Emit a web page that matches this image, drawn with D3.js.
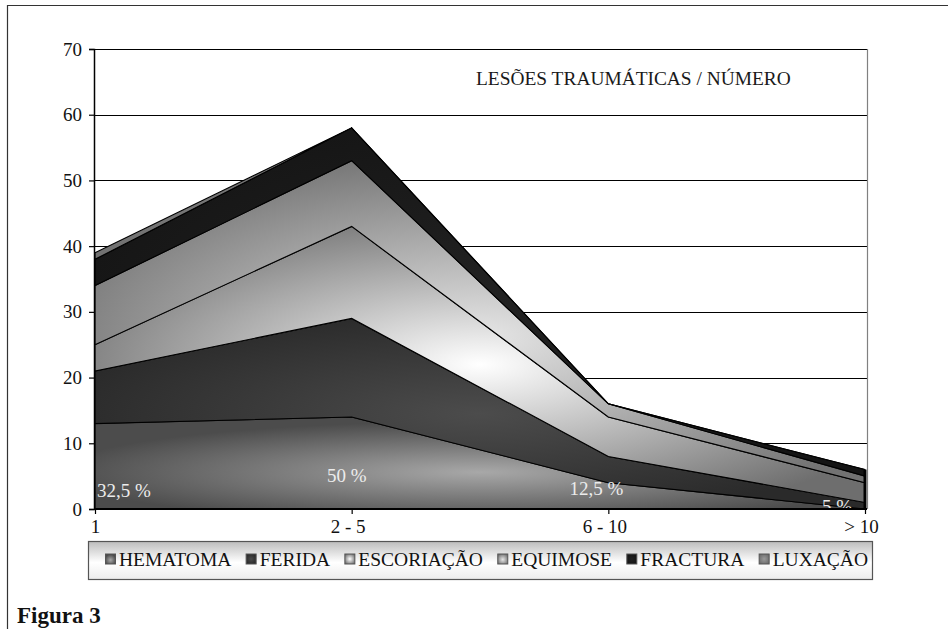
<!DOCTYPE html>
<html>
<head>
<meta charset="utf-8">
<script src="https://cdn.jsdelivr.net/npm/d3@7"></script>
<style>
  html, body { margin: 0; padding: 0; background: #fff; }
  svg { display: block; }
  svg text { font-family: "Liberation Serif", "Times New Roman", Times, serif !important; }
</style>
</head>
<body>
<svg id="chart" width="948" height="629" font-family="Liberation Serif, Times New Roman, serif"></svg>
<script>
// Number of lesions per patient (x categories)
const categories = ["1", "2 - 5", "6 - 10", "> 10"];

// Lesion types, stacked bottom to top
const seriesNames = ["HEMATOMA", "FERIDA", "ESCORIAÇÃO", "EQUIMOSE", "FRACTURA", "LUXAÇÃO"];
const hematoma   = [13, 14, 4, 0];
const ferida     = [8, 15, 4, 1];
const escoriacao = [4, 14, 6, 3];
const equimose   = [9, 10, 2, 1];
const fractura   = [4, 5, 0, 1];
const luxacao    = [1, 0, 0, 0];

// Share of patients in each category
const pctLabels = ["32,5 %", "50 %", "12,5 %", "5 %"];

const yTicks = [0, 10, 20, 30, 40, 50, 60, 70];
const chartTitle = "LESÕES TRAUMÁTICAS / NÚMERO";
const figureCaption = "Figura 3";

// ---- layout ----
const FONT = "Liberation Serif, Times New Roman, serif";
const plot = { left: 94, right: 867, top: 49, bottom: 509 };
const svg = d3.select("#chart");

const x = d3.scalePoint().domain(categories).range([95, 865]);
const y = d3.scaleLinear().domain([0, 70]).range([plot.bottom, plot.top]);

const valuesByKey = {
  "HEMATOMA": hematoma, "FERIDA": ferida, "ESCORIAÇÃO": escoriacao,
  "EQUIMOSE": equimose, "FRACTURA": fractura, "LUXAÇÃO": luxacao
};
const rows = categories.map((c, i) => {
  const r = { cat: c };
  seriesNames.forEach(k => r[k] = valuesByKey[k][i]);
  return r;
});
const stacked = d3.stack().keys(seriesNames)(rows);

// ---- gradient fills (light centre, darker rim) ----
const shades = {
  "HEMATOMA":   { inner: "#a8a8a8", outer: "#4c4c4c", cx: 0.5,  cy: 0.6,  r: 0.55 },
  "FERIDA":     { inner: "#4c4c4c", outer: "#2a2a2a", cx: 0.5,  cy: 0.5,  r: 0.55 },
  "ESCORIAÇÃO": { inner: "#ffffff", outer: "#6e6e6e", cx: 0.5,  cy: 0.5,  r: 0.6 },
  "EQUIMOSE":   { inner: "#e6e6e6", outer: "#727272", cx: 0.5,  cy: 0.55, r: 0.6 },
  "FRACTURA":   { inner: "#222222", outer: "#141414", cx: 0.5,  cy: 0.5,  r: 0.6 },
  "LUXAÇÃO":    { inner: "#9a9a9a", outer: "#6a6a6a", cx: 0.5,  cy: 0.5,  r: 0.6 }
};
const defs = svg.append("defs");
seriesNames.forEach((k, i) => {
  const s = shades[k];
  const g = defs.append("radialGradient")
    .attr("id", "grad" + i)
    .attr("cx", s.cx).attr("cy", s.cy).attr("r", s.r);
  g.append("stop").attr("offset", "0%").attr("stop-color", s.inner);
  g.append("stop").attr("offset", "100%").attr("stop-color", s.outer);
});
const legendBg = defs.append("linearGradient").attr("id", "legendBg")
  .attr("x1", 0).attr("y1", 0).attr("x2", 0).attr("y2", 1);
legendBg.append("stop").attr("offset", "0%").attr("stop-color", "#bdbdbd");
legendBg.append("stop").attr("offset", "55%").attr("stop-color", "#ffffff");
legendBg.append("stop").attr("offset", "100%").attr("stop-color", "#ececec");

defs.append("clipPath").attr("id", "plotClip")
  .append("rect")
  .attr("x", plot.left).attr("y", plot.top)
  .attr("width", plot.right - plot.left).attr("height", plot.bottom - plot.top);

// ---- outer figure frame (top and left rules) ----
svg.append("line").attr("x1", 7).attr("x2", 948).attr("y1", 5.5).attr("y2", 5.5)
  .attr("stroke", "#333").attr("stroke-width", 1.2);
svg.append("line").attr("x1", 7.5).attr("x2", 7.5).attr("y1", 5).attr("y2", 629)
  .attr("stroke", "#333").attr("stroke-width", 1.2);

// ---- gridlines ----
svg.append("g").selectAll("line")
  .data(yTicks.filter(t => t > 0))
  .join("line")
  .attr("x1", plot.left).attr("x2", plot.right)
  .attr("y1", d => Math.round(y(d)) + 0.5).attr("y2", d => Math.round(y(d)) + 0.5)
  .attr("stroke", "#000").attr("stroke-width", 1);

// plot area right border
svg.append("line")
  .attr("x1", plot.right + 0.5).attr("x2", plot.right + 0.5)
  .attr("y1", plot.top).attr("y2", plot.bottom)
  .attr("stroke", "#808080").attr("stroke-width", 1.2);

// ---- stacked areas ----
const area = d3.area()
  .x(d => x(d.data.cat))
  .y0(d => y(d[0]))
  .y1(d => y(d[1]));

svg.append("g").selectAll("path")
  .data(stacked)
  .join("path")
  .attr("d", area)
  .attr("fill", (d, i) => `url(#grad${i})`)
  .attr("stroke", "#000")
  .attr("stroke-width", 1.1)
  .attr("stroke-linejoin", "miter");

// dark closing edge on the last category
const lastCat = categories[categories.length - 1];
const lastTotal = d3.sum(seriesNames, k => valuesByKey[k][categories.length - 1]);
svg.append("line")
  .attr("x1", x(lastCat)).attr("x2", x(lastCat))
  .attr("y1", y(0)).attr("y2", y(lastTotal))
  .attr("stroke", "#000").attr("stroke-width", 3);

// ---- percentage annotations ----
const pctLayout = [
  { dx: 2,   y: 497, anchor: "start" },
  { dx: -5,  y: 482, anchor: "middle" },
  { dx: -12, y: 495, anchor: "middle" },
  { dx: -28, y: 513, anchor: "middle" }
];
svg.append("g").attr("clip-path", "url(#plotClip)")
  .selectAll("text")
  .data(pctLabels)
  .join("text")
  .attr("x", (d, i) => x(categories[i]) + pctLayout[i].dx)
  .attr("y", (d, i) => pctLayout[i].y)
  .attr("text-anchor", (d, i) => pctLayout[i].anchor)
  .attr("font-family", FONT)
  .attr("fill", "#ececec")
  .attr("font-size", 19)
  .text(d => d);

// ---- axes ----
const yAxis = svg.append("g")
  .attr("transform", `translate(${plot.left},0)`)
  .call(d3.axisLeft(y).tickValues(yTicks).tickSize(5).tickPadding(7).tickFormat(d3.format("d")))
  .attr("font-family", FONT);
yAxis.select(".domain").attr("stroke", "#000").attr("stroke-width", 1.5);
yAxis.selectAll(".tick line").attr("stroke", "#000").attr("stroke-width", 1.2);
yAxis.selectAll(".tick text")
  .attr("font-family", FONT)
  .attr("font-size", 19).attr("fill", "#111");

const xAxis = svg.append("g")
  .attr("transform", `translate(0,${plot.bottom})`)
  .call(d3.axisBottom(x).tickSize(5).tickPadding(6).tickSizeOuter(0))
  .attr("font-family", FONT);
xAxis.select(".domain").attr("d", `M${plot.left},0H${plot.right}`)
  .attr("stroke", "#000").attr("stroke-width", 2.2);
xAxis.selectAll(".tick line").attr("stroke", "#000").attr("stroke-width", 1.2);
xAxis.selectAll(".tick text")
  .attr("font-family", FONT)
  .attr("font-size", 19).attr("fill", "#111")
  .attr("dx", (d, i) => i === 0 ? 0 : -4);

// ---- title ----
svg.append("text")
  .attr("x", 476).attr("y", 85)
  .attr("font-family", FONT)
  .attr("font-size", 19.4).attr("fill", "#1a1a1a")
  .text(chartTitle);

// ---- legend ----
const legendBox = { x: 88, y: 541, w: 784, h: 38 };
const lg = svg.append("g");
lg.append("rect")
  .attr("x", legendBox.x + 0.5).attr("y", legendBox.y + 0.5)
  .attr("width", legendBox.w).attr("height", legendBox.h)
  .attr("fill", "url(#legendBg)")
  .attr("stroke", "#555").attr("stroke-width", 1.2);

const swatch = 10, swGap = 4, startX = 105, endX = 868, baseY = 566;
const items = lg.selectAll("g.item").data(seriesNames).join("g").attr("class", "item");
items.append("rect")
  .attr("width", swatch).attr("height", swatch)
  .attr("y", baseY - 12)
  .attr("fill", (d, i) => `url(#grad${i})`)
  .attr("stroke", "#555").attr("stroke-width", 1);
items.append("text")
  .attr("y", baseY)
  .attr("font-family", FONT)
  .attr("font-size", 19.5).attr("fill", "#111")
  .text(d => d);

const widths = [];
items.select("text").each(function () { widths.push(this.getComputedTextLength()); });
const used = d3.sum(widths) + seriesNames.length * (swatch + swGap);
const gap = (endX - startX - used) / (seriesNames.length - 1);
let cursor = startX;
items.each(function (d, i) {
  const g = d3.select(this);
  g.select("rect").attr("x", cursor + 0.5);
  g.select("text").attr("x", cursor + swatch + swGap);
  cursor += swatch + swGap + widths[i] + gap;
});

// ---- caption ----
svg.append("text")
  .attr("x", 17).attr("y", 623)
  .attr("font-family", FONT)
  .attr("font-size", 23).attr("font-weight", "bold").attr("fill", "#111")
  .text(figureCaption);
</script>
</body>
</html>
